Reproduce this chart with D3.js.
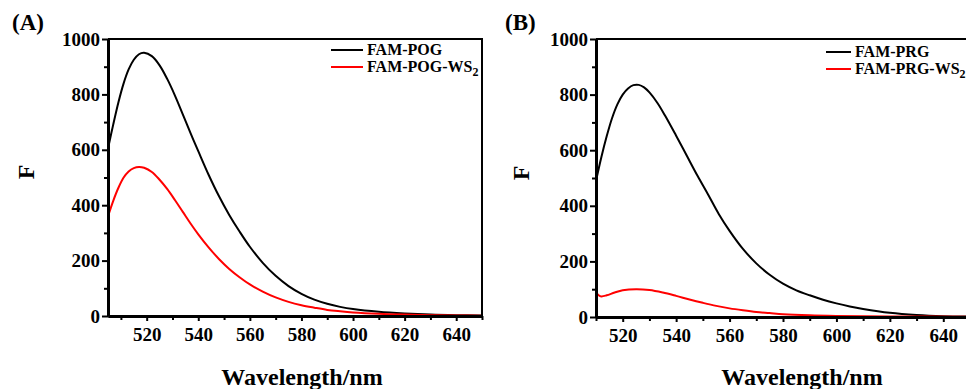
<!DOCTYPE html>
<html>
<head>
<meta charset="utf-8">
<script src="https://cdn.jsdelivr.net/npm/d3@7/dist/d3.min.js"></script>
<style>
  body { margin: 0; background: #fff; }
  svg text { font-family: "Liberation Serif", "Times New Roman", serif; font-weight: bold; fill: #000; }
</style>
</head>
<body>
<svg id="chart" width="966" height="389"></svg>
<script>
// panel A data
var wlPOG = [505, 507, 509, 511, 513, 515, 517, 519, 522, 525, 528, 531, 534, 537, 540, 544, 548, 552, 556, 560, 565, 570, 575, 580, 585, 590, 595, 600, 610, 620, 630, 640, 650];
var fPOG  = [605, 690, 770, 838, 890, 925, 945, 950, 938, 905, 855, 795, 728, 660, 595, 510, 433, 365, 305, 250, 192, 145, 108, 80, 59, 44, 33, 25, 15, 9, 5, 3, 2];
var wlPOGWS2 = [505, 507, 509, 511, 513, 515, 517, 519, 522, 525, 528, 531, 534, 537, 540, 544, 548, 552, 556, 560, 565, 570, 575, 580, 585, 590, 595, 600, 610, 620, 630, 640, 650];
var fPOGWS2  = [360, 415, 462, 499, 522, 534, 538, 535, 520, 492, 458, 418, 376, 334, 295, 248, 206, 170, 140, 114, 88, 67, 51, 39, 30, 22, 17, 13, 8, 5, 3, 2, 1];

// panel B data
var wlPRG = [510, 512, 514, 516, 518, 520, 522, 524, 526, 528, 530, 533, 536, 540, 544, 548, 552, 556, 560, 565, 570, 575, 580, 585, 590, 595, 600, 605, 610, 620, 630, 640, 650];
var fPRG  = [490, 575, 650, 715, 765, 800, 822, 834, 835, 826, 808, 770, 722, 652, 580, 508, 440, 370, 310, 245, 193, 152, 120, 96, 78, 62, 49, 38, 29, 15, 7, 3, 2];
var wlPRGWS2 = [510, 511, 512, 514, 517, 520, 525, 530, 535, 540, 545, 550, 555, 560, 565, 570, 575, 580, 590, 600, 620, 650];
var fPRGWS2  = [90, 78, 74, 78, 88, 96, 100, 97, 88, 76, 63, 51, 40, 31, 24, 18, 14, 10, 6, 4, 2, 1];

var yMajor = [0, 200, 400, 600, 800, 1000];
var yMinor = [100, 300, 500, 700, 900];
var xMajor = [520, 540, 560, 580, 600, 620, 640];
var xMinor = [510, 530, 550, 570, 590, 610, 630, 650];

var svg = d3.select('#chart');

function drawPanel(p) {
  var x = d3.scaleLinear().domain(p.xDomain).range([p.left, p.right]);
  var y = d3.scaleLinear().domain([0, 1000]).range([p.bottom, p.top]);
  var g = svg.append('g');

  g.append('clipPath').attr('id', 'clip' + p.id)
    .append('rect')
      .attr('x', p.left).attr('y', p.top - 5)
      .attr('width', p.right - p.left).attr('height', p.bottom - p.top + 5);

  // curves
  var line = d3.line()
    .x(d => x(d[0]))
    .y(d => y(d[1]))
    .curve(d3.curveCatmullRom.alpha(0.5));

  p.series.forEach(function(s) {
    g.append('path')
      .datum(d3.zip(s.wl, s.f))
      .attr('clip-path', 'url(#clip' + p.id + ')')
      .attr('fill', 'none')
      .attr('stroke', s.color)
      .attr('stroke-width', 2)
      .attr('d', line);
  });

  // frame (top + right)
  g.append('path')
    .attr('d', 'M' + p.left + ',' + p.top + 'H' + p.right + 'V' + p.bottom)
    .attr('fill', 'none')
    .attr('stroke', '#000')
    .attr('stroke-width', 2);

  // axes
  g.append('g')
    .attr('transform', 'translate(' + p.left + ',0)')
    .call(d3.axisLeft(y).tickValues(yMajor).tickFormat(d3.format('d'))
      .tickSize(6).tickPadding(2).tickSizeOuter(0));
  g.append('g')
    .attr('transform', 'translate(' + p.left + ',0)')
    .call(d3.axisLeft(y).tickValues(yMinor).tickSize(4).tickFormat('').tickSizeOuter(0));

  g.append('g')
    .attr('transform', 'translate(0,' + p.bottom + ')')
    .call(d3.axisBottom(x).tickValues(xMajor).tickFormat(d3.format('d'))
      .tickSize(5).tickPadding(7).tickSizeOuter(0));
  g.append('g')
    .attr('transform', 'translate(0,' + p.bottom + ')')
    .call(d3.axisBottom(x).tickValues(xMinor).tickSize(4).tickFormat('').tickSizeOuter(0));

  g.selectAll('.domain').attr('stroke-width', 3);
  g.selectAll('.tick line').attr('stroke-width', 2);
  g.selectAll('.tick text')
    .attr('font-size', 19)
    .style('font-family', '"Liberation Serif", serif')
    .style('font-weight', 'bold');

  // panel letter
  g.append('text')
    .attr('x', p.labelX).attr('y', 30)
    .attr('font-size', 23)
    .text(p.label);

  // axis titles
  g.append('text')
    .attr('x', p.titleX).attr('y', 385)
    .attr('font-size', 24)
    .attr('text-anchor', 'middle')
    .text('Wavelength/nm');

  g.append('text')
    .attr('transform', 'translate(' + p.fX + ',' + p.fY + ') rotate(-90)')
    .attr('font-size', 24)
    .attr('text-anchor', 'middle')
    .text('F');

  // legend
  p.series.forEach(function(s, i) {
    var ly = p.legendY + i * 17;
    g.append('line')
      .attr('x1', p.legendX).attr('x2', p.legendX + p.legendLen)
      .attr('y1', ly).attr('y2', ly)
      .attr('stroke', s.color).attr('stroke-width', 2);
    var t = g.append('text')
      .attr('x', p.legendX + p.legendLen + 4)
      .attr('y', ly + 5)
      .attr('font-size', 16)
      .text(s.name);
    if (s.sub) {
      t.append('tspan').attr('dy', 4).attr('font-size', 12).text(s.sub);
    }
  });
}

drawPanel({
  id: 'A', label: '(A)', labelX: 12,
  xDomain: [505, 650], left: 108, right: 482, top: 39, bottom: 316,
  titleX: 302, fX: 34, fY: 172,
  legendX: 331, legendLen: 32, legendY: 50,
  series: [
    { name: 'FAM-POG', wl: wlPOG, f: fPOG, color: '#000' },
    { name: 'FAM-POG-WS', sub: '2', wl: wlPOGWS2, f: fPOGWS2, color: '#ff0000' }
  ]
});

drawPanel({
  id: 'B', label: '(B)', labelX: 505,
  xDomain: [510, 650], left: 596, right: 970, top: 39, bottom: 317,
  titleX: 802, fX: 529, fY: 173,
  legendX: 826, legendLen: 25, legendY: 52,
  series: [
    { name: 'FAM-PRG', wl: wlPRG, f: fPRG, color: '#000' },
    { name: 'FAM-PRG-WS', sub: '2', wl: wlPRGWS2, f: fPRGWS2, color: '#ff0000' }
  ]
});
</script>
</body>
</html>
